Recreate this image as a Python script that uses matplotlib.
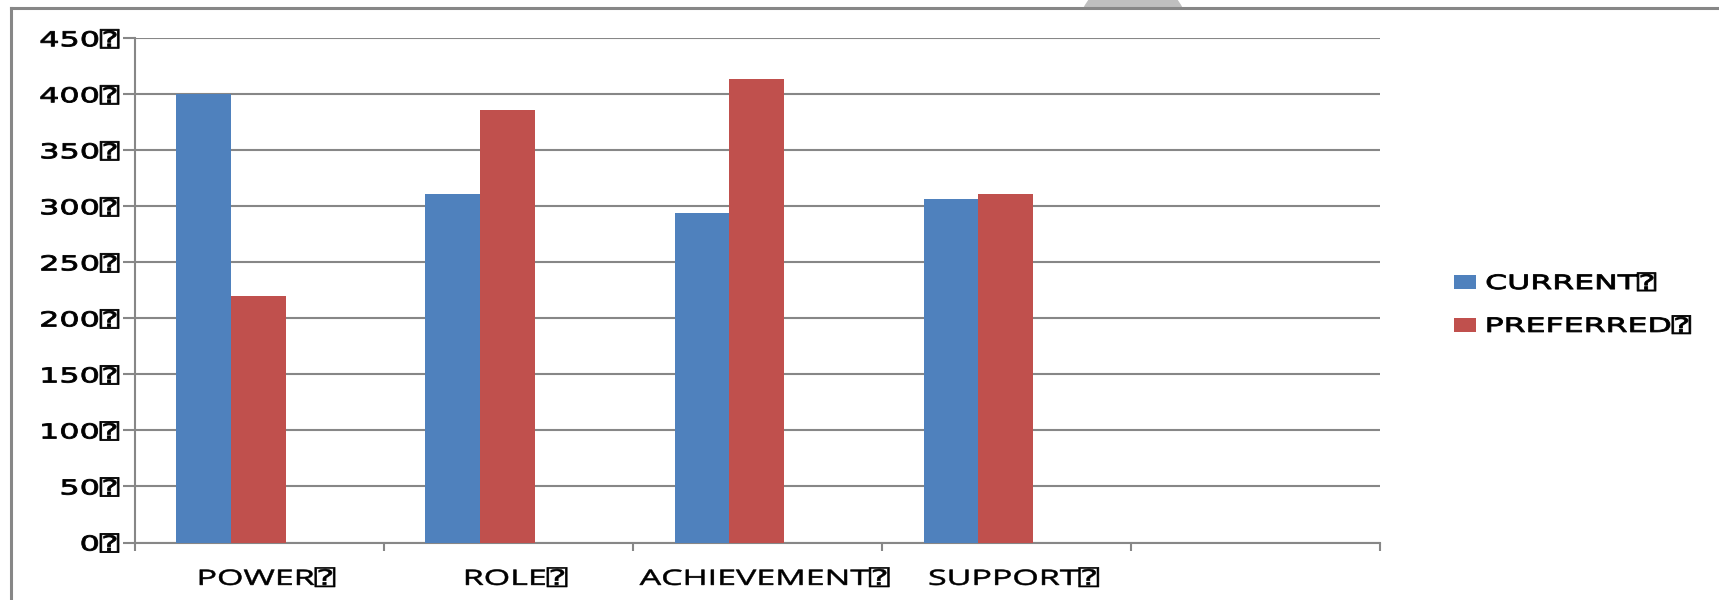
import numpy as np
import matplotlib
matplotlib.use("Agg")
import matplotlib.pyplot as plt
from matplotlib.patches import Rectangle, Ellipse
from matplotlib.lines import Line2D
from matplotlib.patheffects import AbstractPathEffect
from matplotlib.transforms import Affine2D

categories = ["POWER", "ROLE", "ACHIEVEMENT", "SUPPORT"]
current = [400, 311, 294, 307]
preferred = [220, 386, 414, 311]
series_names = ["CURRENT", "PREFERRED"]
yticks = [0, 50, 100, 150, 200, 250, 300, 350, 400, 450]
MARK = "\u2370"

BLUE = "#4F81BD"
RED = "#C0504D"
GRAY = "#878787"


class HStretch(AbstractPathEffect):
    """Stretch text glyphs horizontally around an anchor of the ink box."""
    def __init__(self, sx, anchor="center", stroke=0.0):
        super().__init__()
        self.sx = sx
        self.anchor = anchor
        self.stroke = stroke

    def draw_path(self, renderer, gc, tpath, affine, rgbFace=None):
        ext = tpath.get_extents()
        if self.anchor == "left":
            a = ext.x0
        elif self.anchor == "right":
            a = ext.x1
        else:
            a = 0.5 * (ext.x0 + ext.x1)
        t = Affine2D().translate(-a, 0).scale(self.sx, 1.0).translate(a, 0)
        renderer.draw_path(gc, tpath, t + affine, rgbFace)
        if self.stroke > 0 and rgbFace is not None:
            gc0 = renderer.new_gc()
            gc0.copy_properties(gc)
            gc0.set_linewidth(self.stroke)
            gc0.set_foreground(rgbFace)
            renderer.draw_path(gc0, tpath, t + affine, None)
            gc0.restore()


W, H = 1719, 600
fig = plt.figure(figsize=(W / 100, H / 100), dpi=100)

# background decorations (outer frame and tab)
fig.patches.append(Ellipse((1133 / W, (H - 33.7) / H), 112 / W, 112 / H,
                           transform=fig.transFigure, facecolor="#BFBFBF",
                           edgecolor="none", zorder=-3))
fig.patches.append(Rectangle((11 / W, 0), 1 - 11 / W, (H - 8) / H,
                             transform=fig.transFigure, facecolor="white",
                             edgecolor="none", zorder=-2))
fig.lines.append(Line2D([11 / W, 11 / W], [0, (H - 8) / H], transform=fig.transFigure,
                        color=GRAY, lw=2.2, zorder=-1))
fig.lines.append(Line2D([11 / W, 1], [(H - 8) / H, (H - 8) / H], transform=fig.transFigure,
                        color=GRAY, lw=2.2, zorder=-1))

ax = fig.add_axes([134.5 / W, 57.5 / H, (1380 - 134.5) / W, (542.5 - 38.3) / H])
ax.set_facecolor("white")

x = np.arange(len(categories))
bw = 0.22
ax.bar(x - 0.332, current, width=bw, align="edge", color=BLUE, linewidth=0, zorder=3,
       label=series_names[0])
ax.bar(x - 0.112, preferred, width=bw, align="edge", color=RED, linewidth=0, zorder=3,
       label=series_names[1])

ax.set_xlim(-0.5, 4.5)
ax.set_ylim(0, 450)

ax.set_yticks(yticks)
ax.set_yticklabels([f"{v}{MARK}" for v in yticks],
                   fontfamily=["DejaVu Sans", "DejaVu Sans Mono"], fontsize=14.8)
ax.tick_params(axis="y", direction="out", length=8.6, width=1.5, color=GRAY, pad=2.5)
ax.yaxis.grid(True, color=GRAY, linewidth=1.5, zorder=0)
ax.set_axisbelow(True)

ax.set_xticks(x + 0.03)
ax.set_xticklabels([f"{c}{MARK}" for c in categories],
                   fontfamily=["Open Sans", "DejaVu Sans Mono"], fontsize=15.3)
ax.set_xticks(np.arange(-0.5, 5.0, 1.0), minor=True)
ax.tick_params(axis="x", which="major", length=0, pad=19)
ax.tick_params(axis="x", which="minor", direction="out", length=5.8, width=1.5, color=GRAY)

for s in ["top", "right"]:
    ax.spines[s].set_visible(False)
for s in ["left", "bottom"]:
    ax.spines[s].set_color(GRAY)
    ax.spines[s].set_linewidth(1.5)

for lbl in ax.get_yticklabels():
    lbl.set_path_effects([HStretch(1.55, "right", stroke=0.6)])
for lbl in ax.get_xticklabels():
    lbl.set_path_effects([HStretch(1.6, "center", stroke=0.4)])

leg = fig.legend(loc="center left", bbox_to_anchor=(1454 / W, 295 / H),
                 frameon=False, borderpad=0, borderaxespad=0,
                 handlelength=1.1, handleheight=0.65, handletextpad=0.5,
                 labelspacing=1.2,
                 prop={"family": ["DejaVu Sans", "DejaVu Sans Mono"], "size": 14.3})
for t in leg.get_texts():
    t.set_text(t.get_text() + MARK)
    t.set_path_effects([HStretch(1.59, "left", stroke=0.6)])

fig.savefig("out.png", dpi=100)
